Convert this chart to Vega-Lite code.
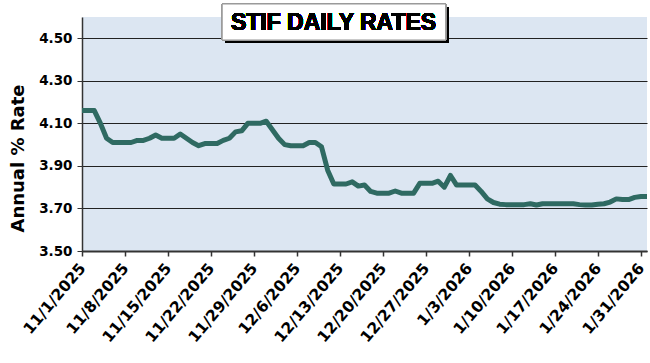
{
  "$schema": "https://vega.github.io/schema/vega-lite/v6.json",
  "width": 565,
  "height": 234,
  "autosize": "none",
  "padding": {"left": 82, "top": 17, "right": 3, "bottom": 112},
  "background": "white",
  "config": {
    "view": {"fill": "#DCE6F2", "stroke": null},
    "axis": {"labelFont": "DejaVu Sans", "labelFontWeight": "bold", "labelColor": "black", "titleColor": "black"}
  },
  "data": {
    "values": [
      {"date": "2025-11-01", "rate": 4.16},
      {"date": "2025-11-02", "rate": 4.16},
      {"date": "2025-11-03", "rate": 4.16},
      {"date": "2025-11-04", "rate": 4.10},
      {"date": "2025-11-05", "rate": 4.03},
      {"date": "2025-11-06", "rate": 4.01},
      {"date": "2025-11-07", "rate": 4.01},
      {"date": "2025-11-08", "rate": 4.01},
      {"date": "2025-11-09", "rate": 4.01},
      {"date": "2025-11-10", "rate": 4.02},
      {"date": "2025-11-11", "rate": 4.02},
      {"date": "2025-11-12", "rate": 4.03},
      {"date": "2025-11-13", "rate": 4.045},
      {"date": "2025-11-14", "rate": 4.03},
      {"date": "2025-11-15", "rate": 4.03},
      {"date": "2025-11-16", "rate": 4.03},
      {"date": "2025-11-17", "rate": 4.05},
      {"date": "2025-11-18", "rate": 4.03},
      {"date": "2025-11-19", "rate": 4.01},
      {"date": "2025-11-20", "rate": 3.995},
      {"date": "2025-11-21", "rate": 4.005},
      {"date": "2025-11-22", "rate": 4.005},
      {"date": "2025-11-23", "rate": 4.005},
      {"date": "2025-11-24", "rate": 4.02},
      {"date": "2025-11-25", "rate": 4.03},
      {"date": "2025-11-26", "rate": 4.06},
      {"date": "2025-11-27", "rate": 4.065},
      {"date": "2025-11-28", "rate": 4.10},
      {"date": "2025-11-29", "rate": 4.10},
      {"date": "2025-11-30", "rate": 4.10},
      {"date": "2025-12-01", "rate": 4.11},
      {"date": "2025-12-02", "rate": 4.07},
      {"date": "2025-12-03", "rate": 4.03},
      {"date": "2025-12-04", "rate": 4.00},
      {"date": "2025-12-05", "rate": 3.995},
      {"date": "2025-12-06", "rate": 3.995},
      {"date": "2025-12-07", "rate": 3.995},
      {"date": "2025-12-08", "rate": 4.01},
      {"date": "2025-12-09", "rate": 4.01},
      {"date": "2025-12-10", "rate": 3.99},
      {"date": "2025-12-11", "rate": 3.88},
      {"date": "2025-12-12", "rate": 3.815},
      {"date": "2025-12-13", "rate": 3.815},
      {"date": "2025-12-14", "rate": 3.815},
      {"date": "2025-12-15", "rate": 3.825},
      {"date": "2025-12-16", "rate": 3.805},
      {"date": "2025-12-17", "rate": 3.81},
      {"date": "2025-12-18", "rate": 3.78},
      {"date": "2025-12-19", "rate": 3.772},
      {"date": "2025-12-20", "rate": 3.772},
      {"date": "2025-12-21", "rate": 3.772},
      {"date": "2025-12-22", "rate": 3.782},
      {"date": "2025-12-23", "rate": 3.772},
      {"date": "2025-12-24", "rate": 3.772},
      {"date": "2025-12-25", "rate": 3.772},
      {"date": "2025-12-26", "rate": 3.818},
      {"date": "2025-12-27", "rate": 3.818},
      {"date": "2025-12-28", "rate": 3.818},
      {"date": "2025-12-29", "rate": 3.828},
      {"date": "2025-12-30", "rate": 3.80},
      {"date": "2025-12-31", "rate": 3.855},
      {"date": "2026-01-01", "rate": 3.81},
      {"date": "2026-01-02", "rate": 3.81},
      {"date": "2026-01-03", "rate": 3.81},
      {"date": "2026-01-04", "rate": 3.81},
      {"date": "2026-01-05", "rate": 3.78},
      {"date": "2026-01-06", "rate": 3.745},
      {"date": "2026-01-07", "rate": 3.728},
      {"date": "2026-01-08", "rate": 3.72},
      {"date": "2026-01-09", "rate": 3.718},
      {"date": "2026-01-10", "rate": 3.718},
      {"date": "2026-01-11", "rate": 3.718},
      {"date": "2026-01-12", "rate": 3.718},
      {"date": "2026-01-13", "rate": 3.722},
      {"date": "2026-01-14", "rate": 3.716},
      {"date": "2026-01-15", "rate": 3.722},
      {"date": "2026-01-16", "rate": 3.722},
      {"date": "2026-01-17", "rate": 3.722},
      {"date": "2026-01-18", "rate": 3.722},
      {"date": "2026-01-19", "rate": 3.722},
      {"date": "2026-01-20", "rate": 3.722},
      {"date": "2026-01-21", "rate": 3.718},
      {"date": "2026-01-22", "rate": 3.716},
      {"date": "2026-01-23", "rate": 3.716},
      {"date": "2026-01-24", "rate": 3.72},
      {"date": "2026-01-25", "rate": 3.722},
      {"date": "2026-01-26", "rate": 3.73},
      {"date": "2026-01-27", "rate": 3.745},
      {"date": "2026-01-28", "rate": 3.742},
      {"date": "2026-01-29", "rate": 3.742},
      {"date": "2026-01-30", "rate": 3.752},
      {"date": "2026-01-31", "rate": 3.756},
      {"date": "2026-02-01", "rate": 3.756}
    ]
  },
  "layer": [
    {
      "mark": {"type": "line", "color": "#2F6A62", "strokeWidth": 5, "strokeJoin": "round", "strokeCap": "butt", "clip": true},
      "encoding": {
        "x": {
          "field": "date", "type": "temporal",
          "scale": {"type": "utc", "domain": [{"year": 2025, "month": 11, "date": 1, "utc": true}, {"year": 2026, "month": 2, "date": 1, "utc": true}]},
          "axis": {
            "title": null,
            "format": "%-m/%-d/%Y",
            "values": [
              {"year": 2025, "month": 11, "date": 1, "utc": true},
              {"year": 2025, "month": 11, "date": 8, "utc": true},
              {"year": 2025, "month": 11, "date": 15, "utc": true},
              {"year": 2025, "month": 11, "date": 22, "utc": true},
              {"year": 2025, "month": 11, "date": 29, "utc": true},
              {"year": 2025, "month": 12, "date": 6, "utc": true},
              {"year": 2025, "month": 12, "date": 13, "utc": true},
              {"year": 2025, "month": 12, "date": 20, "utc": true},
              {"year": 2025, "month": 12, "date": 27, "utc": true},
              {"year": 2026, "month": 1, "date": 3, "utc": true},
              {"year": 2026, "month": 1, "date": 10, "utc": true},
              {"year": 2026, "month": 1, "date": 17, "utc": true},
              {"year": 2026, "month": 1, "date": 24, "utc": true},
              {"year": 2026, "month": 1, "date": 31, "utc": true}
            ],
            "labelAngle": -50,
            "labelAlign": "right",
            "labelBaseline": "middle",
            "labelFontSize": 15.5,
            "labelPadding": 9,
            "labelOverlap": false,
            "labelFlush": false,
            "domainColor": "#333333",
            "domainWidth": 2,
            "tickColor": "#333333",
            "tickWidth": 1.5,
            "tickSize": 5,
            "grid": false
          }
        },
        "y": {
          "field": "rate", "type": "quantitative",
          "scale": {"domain": [3.5, 4.6], "nice": false, "zero": false},
          "axis": {
            "title": "Annual % Rate",
            "titleFont": "DejaVu Sans",
            "titleFontWeight": "bold",
            "titleFontSize": 18,
            "titleX": -64,
            "titleY": 141,
            "titleAngle": -90,
            "titleBaseline": "middle",
            "titleAlign": "center",
            "values": [3.5, 3.7, 3.9, 4.1, 4.3, 4.5],
            "format": ".2f",
            "labelFontSize": 13.5,
            "labelPadding": 5,
            "domainColor": "#333333",
            "domainWidth": 1.5,
            "tickColor": "#333333",
            "tickSize": 5,
            "grid": true,
            "gridColor": "#222222",
            "gridWidth": 1.2
          }
        }
      }
    },
    {
      "mark": {"type": "rect", "fill": "black", "xOffset": 3, "yOffset": 3, "x2Offset": 3, "y2Offset": 3},
      "encoding": {
        "x": {"datum": {"year": 2025, "month": 11, "date": 23, "hours": 20, "utc": true}, "type": "temporal"},
        "x2": {"datum": {"year": 2025, "month": 12, "date": 30, "hours": 5, "utc": true}},
        "y": {"datum": 4.661, "type": "quantitative"},
        "y2": {"datum": 4.492}
      }
    },
    {
      "mark": {"type": "rect", "fill": "white", "stroke": "#9a9a9a", "strokeWidth": 1},
      "encoding": {
        "x": {"datum": {"year": 2025, "month": 11, "date": 23, "hours": 20, "utc": true}, "type": "temporal"},
        "x2": {"datum": {"year": 2025, "month": 12, "date": 30, "hours": 5, "utc": true}},
        "y": {"datum": 4.661, "type": "quantitative"},
        "y2": {"datum": 4.492}
      }
    },
    {
      "mark": {"type": "text", "text": "STIF DAILY RATES", "font": "Liberation Sans", "fontWeight": "bold", "fontSize": 23, "color": "black", "align": "center", "baseline": "middle"},
      "encoding": {
        "x": {"datum": {"year": 2025, "month": 12, "date": 11, "hours": 23, "utc": true}, "type": "temporal"},
        "y": {"datum": 4.572, "type": "quantitative"}
      }
    }
  ]
}
